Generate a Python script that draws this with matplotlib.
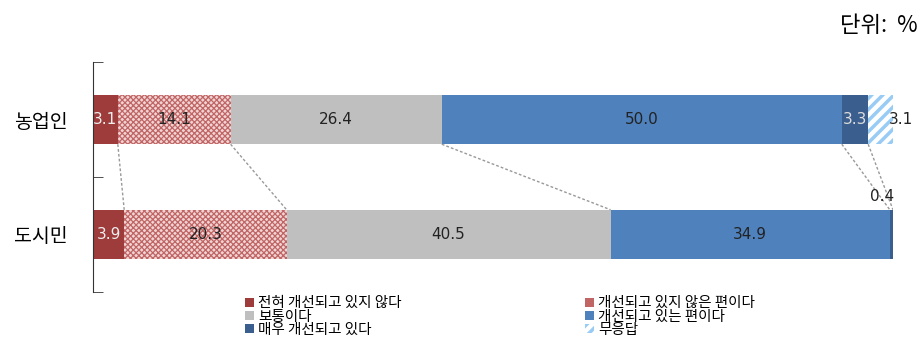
import matplotlib.pyplot as plt
import numpy as np

plt.rcParams['font.family'] = ['Noto Sans CJK KR', 'DejaVu Sans']

groups = ['농업인', '도시민']
categories = ['전혀 개선되고 있지 않다', '개선되고 있지 않은 편이다', '보통이다',
              '개선되고 있는 편이다', '매우 개선되고 있다', '무응답']
farmers = [3.1, 14.1, 26.4, 50.0, 3.3, 3.1]
urban = [3.9, 20.3, 40.5, 34.9, 0.4, 0.0]

colors = ['#9E3B3B', '#F0D4D4', '#BFBFBF', '#4F81BD', '#3A5F8E', 'white']
hatches = [None, 'xxxxxx', None, None, None, '///']
hatch_colors = [None, '#C06464', None, None, None, '#99CCF5']
text_colors = ['#EEEEEE', '#222222', '#222222', '#222222', '#DDDDDD', '#222222']

fig = plt.figure(figsize=(9.22, 3.41), dpi=100)
ax = fig.add_axes([93 / 922, 1 - 292 / 341, 800 / 922, 230 / 341])

data = np.array([farmers, urban])
bh = 0.43
lefts = np.zeros(2)
handles = []
numfont = dict(fontsize=11, family='DejaVu Sans')
for i, cat in enumerate(categories):
    vals = data[:, i]
    plt.rcParams['hatch.linewidth'] = 0.9 if i == 1 else 2.5
    bars = ax.barh([0, 1], vals, left=lefts, height=bh, color=colors[i],
                   label=cat, linewidth=0)
    if hatches[i]:
        for b in bars:
            b.set_hatch(hatches[i])
            b.set_edgecolor(hatch_colors[i])
    handles.append(bars)
    for j in range(2):
        v = vals[j]
        if v == 0:
            continue
        if i == 5:
            ax.text(lefts[j] + v + 1.0, j, f'{v:.1f}', ha='center', va='center',
                    color=text_colors[i], **numfont)
        elif j == 1 and i == 4:
            ax.text(98.6, 0.67, f'{v:.1f}', ha='center', va='center',
                    color='#222222', **numfont)
        else:
            ax.text(lefts[j] + v / 2, j, f'{v:.1f}', ha='center', va='center',
                    color=text_colors[i], **numfont)
    lefts = lefts + vals

# connecting dashed lines between segment boundaries
cum_top = np.cumsum(farmers)
cum_bot = np.cumsum(urban)
for k in range(5):
    ax.plot([cum_top[k], cum_bot[k]], [bh / 2, 1 - bh / 2], ls=(0, (2, 1.5)),
            color='#999999', lw=1)

ax.set_xlim(0, 100)
ax.set_ylim(1.5, -0.5)
ax.set_yticks([0, 1])
ax.set_yticklabels(groups, fontsize=14)
ax.tick_params(axis='y', length=0, pad=18)
ax.set_yticks([-0.5, 0.5, 1.5], minor=True)
ax.tick_params(axis='y', which='minor', direction='in', length=7, color='#333333')
ax.set_xticks([])
for s in ['top', 'right', 'bottom']:
    ax.spines[s].set_visible(False)
ax.spines['left'].set_color('#333333')

fig.text(918 / 922, 1 - 25 / 341, '단위:  %', ha='right', va='center', fontsize=16)

leg_kw = dict(frameon=False, fontsize=10.5, handlelength=0.6, handleheight=0.6,
              labelspacing=-0.05, handletextpad=0.3, borderpad=0, loc='upper left')
fig.legend([handles[0], handles[2], handles[4]],
           [categories[0], categories[2], categories[4]],
           bbox_to_anchor=(238 / 922, 1 - 289 / 341), **leg_kw)
fig.legend([handles[1], handles[3], handles[5]],
           [categories[1], categories[3], categories[5]],
           bbox_to_anchor=(578 / 922, 1 - 289 / 341), **leg_kw)

fig.savefig('out.png', dpi=100)
